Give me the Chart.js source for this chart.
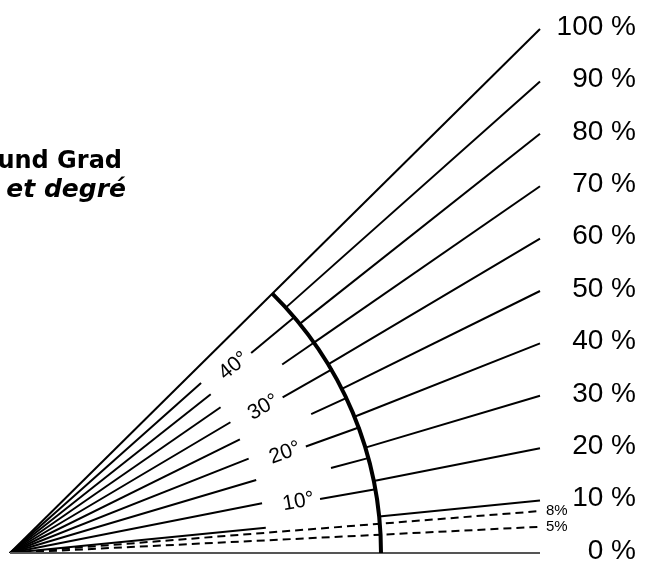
<!DOCTYPE html>
<html>
<head>
<meta charset="utf-8">
<script src="https://cdn.jsdelivr.net/npm/chart.js@4.4.1/dist/chart.umd.min.js"></script>
<style>
    html, body { margin: 0; padding: 0; background: #fff; }
    #wrap { width: 646px; height: 565px; position: relative; }
</style>
</head>
<body>
<div id="wrap"><canvas id="slopeChart"></canvas></div>
<script>
// Slopes in percent (rise per 100 run) and their labels
const percentSteps = [0, 10, 20, 30, 40, 50, 60, 70, 80, 90, 100];
const percentTicks = ['0 %', '10 %', '20 %', '30 %', '40 %', '50 %', '60 %', '70 %', '80 %', '90 %', '100 %'];

// Dashed small slopes
const dashedSteps = [5, 8];
const dashedTicks = ['5%', '8%'];

// Angle lines in degrees, and the ones carrying a label
const degreeSteps = [10, 15, 20, 25, 30, 35, 40];
const degreeLabelSteps = [10, 20, 30, 40];
const degreeTicks = ['10°', '20°', '30°', '40°'];

// Heading, cut at the left edge like the original
const headingLines = ['und Grad', 'et degré'];

// Geometry (in data units, run of 100 = line end)
const RUN = 100;
const INNER_R = 48.5;   // where the percent lines stop before the label band
const ARC_R = 70;       // the thick degree arc
const DEG_START_LABEL = 59.4;
const DEG_START_PLAIN = 62.7;
const DEG_LABEL_R = 55.3;

// Pixel mapping of the canvas
const ORIGIN_PX = { x: 10, y: 553 };
const PX_X = 5.3, PX_Y = 5.24;
const W = 646, H = 565;

function pointOnSlope(p, r) {
    const a = Math.atan(p / 100);
    return { x: r * Math.cos(a), y: r * Math.sin(a) };
}

function pointOnAngle(deg, r) {
    const a = deg * Math.PI / 180;
    return { x: r * Math.cos(a), y: r * Math.sin(a) };
}

function lineSet(data, opts) {
    return Object.assign({
        data: data,
        showLine: true,
        pointRadius: 0,
        borderColor: '#000',
        borderWidth: 2,
        fill: false
    }, opts || {});
}

function buildDatasets() {
    const sets = [];

    percentSteps.forEach(p => {
        if (p === 0) {
            sets.push(lineSet([{ x: 0, y: 0 }, { x: RUN, y: 0 }], { borderColor: '#555' }));
        } else if (p === 100) {
            sets.push(lineSet([{ x: 0, y: 0 }, { x: RUN, y: p }]));
        } else {
            sets.push(lineSet([{ x: 0, y: 0 }, pointOnSlope(p, INNER_R)]));
            sets.push(lineSet([pointOnSlope(p, ARC_R), { x: RUN, y: p }]));
        }
    });

    dashedSteps.forEach(p => {
        sets.push(lineSet([{ x: 0, y: 0 }, { x: RUN, y: p }], { borderDash: [8, 5] }));
    });

    degreeSteps.forEach(d => {
        const start = degreeLabelSteps.includes(d) ? DEG_START_LABEL : DEG_START_PLAIN;
        sets.push(lineSet([pointOnAngle(d, start), pointOnAngle(d, ARC_R + 0.3)]));
    });

    return sets;
}

// Draws the arc and all texts through the chart's scales
const overlayPlugin = {
    id: 'overlay',
    afterDatasetsDraw(chart) {
        const ctx = chart.ctx;
        const xs = chart.scales.x, ys = chart.scales.y;
        const cx = xs.getPixelForValue(0), cy = ys.getPixelForValue(0);
        const rx = xs.getPixelForValue(ARC_R) - cx;
        const ry = cy - ys.getPixelForValue(ARC_R);

        ctx.save();
        ctx.strokeStyle = '#000';
        ctx.lineWidth = 4;
        ctx.beginPath();
        ctx.ellipse(cx, cy, rx, ry, 0, -Math.PI / 4, 0, false);
        ctx.stroke();

        // percent labels on the right
        ctx.fillStyle = '#000';
        ctx.font = '28px "Liberation Sans", Arial, sans-serif';
        ctx.textAlign = 'right';
        ctx.textBaseline = 'middle';
        percentSteps.forEach((p, i) => {
            ctx.fillText(percentTicks[i], 636, ys.getPixelForValue(p) - 2);
        });

        // small labels for the dashed lines
        ctx.font = '15px "Liberation Sans", Arial, sans-serif';
        ctx.textAlign = 'left';
        dashedSteps.forEach((p, i) => {
            ctx.fillText(dashedTicks[i], xs.getPixelForValue(RUN) + 6, ys.getPixelForValue(p));
        });

        // degree labels, turned along their line
        ctx.font = '21px "Liberation Sans", Arial, sans-serif';
        ctx.textAlign = 'center';
        degreeLabelSteps.forEach((d, i) => {
            const pt = pointOnAngle(d, DEG_LABEL_R);
            const px = xs.getPixelForValue(pt.x), py = ys.getPixelForValue(pt.y);
            const ang = Math.atan2(cy - py, px - cx);
            ctx.save();
            ctx.translate(px, py);
            ctx.rotate(-ang);
            ctx.fillText(degreeTicks[i], 0, -1);
            ctx.restore();
        });

        // heading
        ctx.textAlign = 'right';
        ctx.textBaseline = 'alphabetic';
        ctx.font = 'bold 24px "DejaVu Sans", Verdana, sans-serif';
        ctx.fillText(headingLines[0], 122, 168);
        ctx.font = 'italic bold 25px "DejaVu Sans", Verdana, sans-serif';
        ctx.fillText(headingLines[1], 126, 197);
        ctx.restore();
    }
};

function initializeChart() {
    const ctx = document.getElementById('slopeChart').getContext('2d');
    new Chart(ctx, {
        type: 'scatter',
        data: { datasets: buildDatasets() },
        options: {
            responsive: true,
            maintainAspectRatio: false,
            animation: false,
            layout: { padding: 0 },
            plugins: {
                legend: { display: false },
                tooltip: { enabled: false }
            },
            scales: {
                x: {
                    type: 'linear',
                    display: false,
                    min: -ORIGIN_PX.x / PX_X,
                    max: (W - ORIGIN_PX.x) / PX_X
                },
                y: {
                    type: 'linear',
                    display: false,
                    min: -(H - ORIGIN_PX.y) / PX_Y,
                    max: ORIGIN_PX.y / PX_Y
                }
            }
        },
        plugins: [overlayPlugin]
    });
}

document.addEventListener('DOMContentLoaded', initializeChart);
</script>
</body>
</html>
